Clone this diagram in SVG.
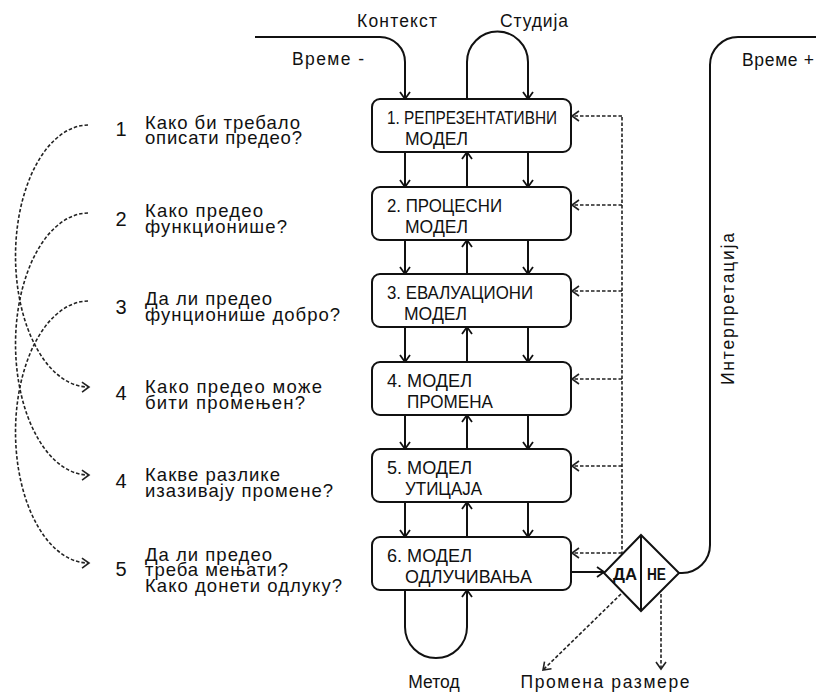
<svg xmlns="http://www.w3.org/2000/svg" width="816" height="692" viewBox="0 0 816 692">
<defs>
<style>
.t{font-family:"Liberation Sans",Arial,sans-serif;fill:#111}
.q{font-size:18.5px}
.n{font-size:20px;text-anchor:middle}
.b{font-size:18px}
.l{font-size:17.5px}
.box{fill:#fff;stroke:#111;stroke-width:2}
.s{fill:none;stroke:#111;stroke-width:2}
.d{fill:none;stroke:#222;stroke-width:1.6;stroke-dasharray:3.5 2}
.dl{fill:none;stroke:#222;stroke-width:1.6;stroke-dasharray:3.5 2}
</style>
<marker id="a" viewBox="0 0 10 10" refX="9" refY="5" markerWidth="10" markerHeight="10" markerUnits="userSpaceOnUse" orient="auto" overflow="visible">
<path d="M2,0 L9,5 L2,10" fill="none" stroke="#111" stroke-width="1.8"/>
</marker>
<marker id="ad" viewBox="0 0 10 10" refX="9" refY="5" markerWidth="10" markerHeight="10" markerUnits="userSpaceOnUse" orient="auto" overflow="visible">
<path d="M2,0 L9,5 L2,10" fill="none" stroke="#222" stroke-width="1.6"/>
</marker>
</defs>
<rect width="816" height="692" fill="#fff"/>

<g id="connectors">
<path class="s" d="M255,37 H380 A25,25 0 0 1 405,62 V99" marker-end="url(#a)"/>
<path class="s" d="M467,99 V62 A30.5,30.5 0 0 1 528,62 V99" marker-end="url(#a)"/>
<path class="s" d="M405,152 V187" marker-end="url(#a)"/>
<path class="s" d="M528,152 V187" marker-end="url(#a)"/>
<path class="s" d="M467,187 V152" marker-end="url(#a)"/>
<path class="s" d="M405,240 V274" marker-end="url(#a)"/>
<path class="s" d="M528,240 V274" marker-end="url(#a)"/>
<path class="s" d="M467,274 V240" marker-end="url(#a)"/>
<path class="s" d="M405,327 V362" marker-end="url(#a)"/>
<path class="s" d="M528,327 V362" marker-end="url(#a)"/>
<path class="s" d="M467,362 V327" marker-end="url(#a)"/>
<path class="s" d="M405,415 V449" marker-end="url(#a)"/>
<path class="s" d="M528,415 V449" marker-end="url(#a)"/>
<path class="s" d="M467,449 V415" marker-end="url(#a)"/>
<path class="s" d="M405,502 V537" marker-end="url(#a)"/>
<path class="s" d="M528,502 V537" marker-end="url(#a)"/>
<path class="s" d="M467,537 V502" marker-end="url(#a)"/>
<path class="s" d="M405,590 V627 A31,31 0 0 0 467,627 V590" marker-end="url(#a)"/>
<path class="s" d="M571,572 H604" marker-end="url(#a)"/>
<path class="s" d="M816,37 H738 A28,28 0 0 0 710,65 V545 A28,28 0 0 1 682,573 H679"/>
<path class="d" d="M622,555 V116"/>
<path class="d" d="M622,116 H572" marker-end="url(#ad)"/>
<path class="d" d="M622,205 H572" marker-end="url(#ad)"/>
<path class="d" d="M622,291 H572" marker-end="url(#ad)"/>
<path class="d" d="M622,379 H572" marker-end="url(#ad)"/>
<path class="d" d="M622,466 H572" marker-end="url(#ad)"/>
<path class="d" d="M622,553 H572" marker-end="url(#ad)"/>
<path class="d" d="M621,594 L543,670" marker-end="url(#ad)"/>
<path class="d" d="M661,594 V669" marker-end="url(#ad)"/>
<path class="dl" d="M88,125 A73,131 0 0 0 89,387" marker-end="url(#ad)"/>
<path class="dl" d="M88,213 A73,131 0 0 0 89,475" marker-end="url(#ad)"/>
<path class="dl" d="M88,301 A73,131 0 0 0 89,563" marker-end="url(#ad)"/>
</g>

<g id="labels" class="t l">
<text x="357" y="27" textLength="80">Контекст</text>
<text x="500" y="27" textLength="68">Студија</text>
<text x="292" y="65" textLength="72">Време -</text>
<text x="742" y="66" textLength="72">Време +</text>
<text transform="translate(734,309) rotate(-90)" text-anchor="middle" textLength="152">Интерпретација</text>
<text x="434" y="688" text-anchor="middle">Метод</text>
<text x="605" y="688" text-anchor="middle" textLength="169">Промена размере</text>
</g>

<g id="m1">
<rect class="box" x="372" y="99" width="199" height="53" rx="8"/>
<text class="t b" x="387" y="123.5" textLength="170" lengthAdjust="spacingAndGlyphs">1. РЕПРЕЗЕНТАТИВНИ</text>
<text class="t b" x="405" y="144.5" textLength="63" lengthAdjust="spacingAndGlyphs">МОДЕЛ</text>
</g>
<g id="m2">
<rect class="box" x="372" y="187" width="199" height="53" rx="8"/>
<text class="t b" x="387" y="211.5" textLength="115" lengthAdjust="spacingAndGlyphs">2. ПРОЦЕСНИ</text>
<text class="t b" x="405" y="232.5" textLength="63" lengthAdjust="spacingAndGlyphs">МОДЕЛ</text>
</g>
<g id="m3">
<rect class="box" x="372" y="274" width="199" height="53" rx="8"/>
<text class="t b" x="387" y="298.5" textLength="146" lengthAdjust="spacingAndGlyphs">3. ЕВАЛУАЦИОНИ</text>
<text class="t b" x="404" y="319.5" textLength="63" lengthAdjust="spacingAndGlyphs">МОДЕЛ</text>
</g>
<g id="m4">
<rect class="box" x="372" y="362" width="199" height="53" rx="8"/>
<text class="t b" x="387" y="386.5" textLength="85" lengthAdjust="spacingAndGlyphs">4. МОДЕЛ</text>
<text class="t b" x="407" y="407.5" textLength="86" lengthAdjust="spacingAndGlyphs">ПРОМЕНА</text>
</g>
<g id="m5">
<rect class="box" x="372" y="449" width="199" height="53" rx="8"/>
<text class="t b" x="387" y="473.5" textLength="85" lengthAdjust="spacingAndGlyphs">5. МОДЕЛ</text>
<text class="t b" x="405" y="494.5" textLength="77" lengthAdjust="spacingAndGlyphs">УТИЦАЈА</text>
</g>
<g id="m6">
<rect class="box" x="372" y="537" width="199" height="53" rx="8"/>
<text class="t b" x="387" y="561.5" textLength="85" lengthAdjust="spacingAndGlyphs">6. МОДЕЛ</text>
<text class="t b" x="405" y="582.5" textLength="127" lengthAdjust="spacingAndGlyphs">ОДЛУЧИВАЊА</text>
</g>
<g id="decision">
<polygon points="641,535 679,573 641,611 604,573" fill="#fff" stroke="#111" stroke-width="2"/>
<line x1="641" y1="535" x2="641" y2="611" stroke="#111" stroke-width="2"/>
<text class="t" x="613" y="580" font-size="16" font-weight="bold" textLength="24" lengthAdjust="spacingAndGlyphs">ДА</text>
<text class="t" x="647" y="580" font-size="16" font-weight="bold" textLength="19" lengthAdjust="spacingAndGlyphs">НЕ</text>
</g>

<g id="q1" class="t">
<text class="n" x="121" y="136">1</text>
<text class="q" x="145" y="128.5" textLength="155">Како би требало</text>
<text class="q" x="145" y="144" textLength="157">описати предео?</text>
</g>
<g id="q2" class="t">
<text class="n" x="121" y="226">2</text>
<text class="q" x="145" y="217" textLength="118">Како предео</text>
<text class="q" x="145" y="232.5" textLength="142">функционише?</text>
</g>
<g id="q3" class="t">
<text class="n" x="121" y="314">3</text>
<text class="q" x="145" y="305" textLength="127">Да ли предео</text>
<text class="q" x="145" y="320.5" textLength="195">фунционише добро?</text>
</g>
<g id="q4" class="t">
<text class="n" x="121" y="400">4</text>
<text class="q" x="145" y="393" textLength="177">Како предео може</text>
<text class="q" x="145" y="408.5" textLength="160">бити промењен?</text>
</g>
<g id="q5" class="t">
<text class="n" x="121" y="488">4</text>
<text class="q" x="145" y="481" textLength="135">Какве разлике</text>
<text class="q" x="145" y="496.5" textLength="188">изазивају промене?</text>
</g>
<g id="q6" class="t">
<text class="n" x="121" y="576">5</text>
<text class="q" x="145" y="560.5" textLength="127">Да ли предео</text>
<text class="q" x="145" y="576" textLength="143">треба мењати?</text>
<text class="q" x="145" y="591.5" textLength="197">Како донети одлуку?</text>
</g>
</svg>
